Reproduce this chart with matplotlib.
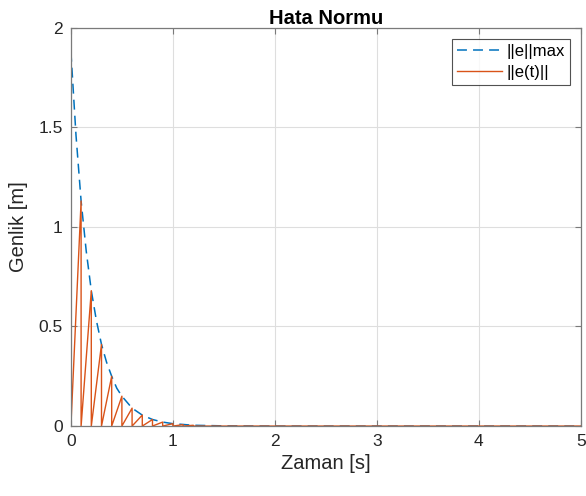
import numpy as np
import matplotlib.pyplot as plt

plt.rcParams['font.family'] = ['Liberation Sans', 'DejaVu Sans']

# envelope ||e||max
env_t = [0, 0.05, 0.1, 0.15, 0.2, 0.25, 0.3, 0.35, 0.4, 0.45, 0.5, 0.6, 0.7,
         0.8, 0.9, 1.0, 1.2, 1.5, 2.0, 5.0]
env_v = [1.88, 1.46, 1.13, 0.88, 0.68, 0.53, 0.41, 0.32, 0.25, 0.19, 0.15,
         0.09, 0.055, 0.033, 0.02, 0.012, 0.004, 0.001, 0.0, 0.0]

# sampled error norm: peaks of the sawtooth
peak_t = [0.1, 0.2, 0.3, 0.4, 0.5, 0.6, 0.7, 0.8, 0.9, 1.0, 1.1, 1.2]
peak_v = [1.13, 0.68, 0.41, 0.25, 0.15, 0.09, 0.055, 0.033, 0.02, 0.012, 0.007, 0.004]
t_end = 5.0

# sawtooth: ramp up to each peak, drop back to zero
saw_t = [0.0]
saw_v = [0.0]
for t, v in zip(peak_t, peak_v):
    saw_t += [t, t]
    saw_v += [v, 0.0]
saw_t.append(t_end)
saw_v.append(0.0)

fig = plt.figure(figsize=(5.86, 4.96), dpi=100)
ax = fig.add_axes([0.121, 0.141, 0.870, 0.803])

ax.plot(env_t, env_v, '--', color='#0072BD', lw=1.1, label='||e||max', dashes=(6.5, 4))
ax.plot(saw_t, saw_v, '-', color='#D95319', lw=1.0, label='||e(t)||')

ax.set_xlim(0, 5)
ax.set_ylim(0, 2)
ax.set_xticks([0, 1, 2, 3, 4, 5])
ax.set_yticks([0, 0.5, 1, 1.5, 2])
ax.set_yticklabels(['0', '0.5', '1', '1.5', '2'])
ax.grid(True, color='#dedede', lw=0.8)
ax.set_axisbelow(True)
for s in ax.spines.values():
    s.set_color('#7a7a7a')
    s.set_linewidth(0.9)
ax.tick_params(direction='in', top=True, right=True, length=4,
               labelsize=12.5, color='#7a7a7a', labelcolor='#262626', pad=6)

ax.set_title('Hata Normu', fontsize=14.5, fontweight='bold', color='black', pad=3)
ax.set_xlabel('Zaman [s]', fontsize=14.5, color='#262626', labelpad=3)
ax.set_ylabel('Genlik [m]', fontsize=14.5, color='#262626', labelpad=7)

leg = ax.legend(loc='upper right', fontsize=12, frameon=True, fancybox=False,
                borderaxespad=0.65, handlelength=2.7, handletextpad=0.3,
                borderpad=0.3, labelspacing=0.4)
leg.get_frame().set_edgecolor('#262626')
leg.get_frame().set_linewidth(0.8)

fig.savefig('out.png', dpi=100)
